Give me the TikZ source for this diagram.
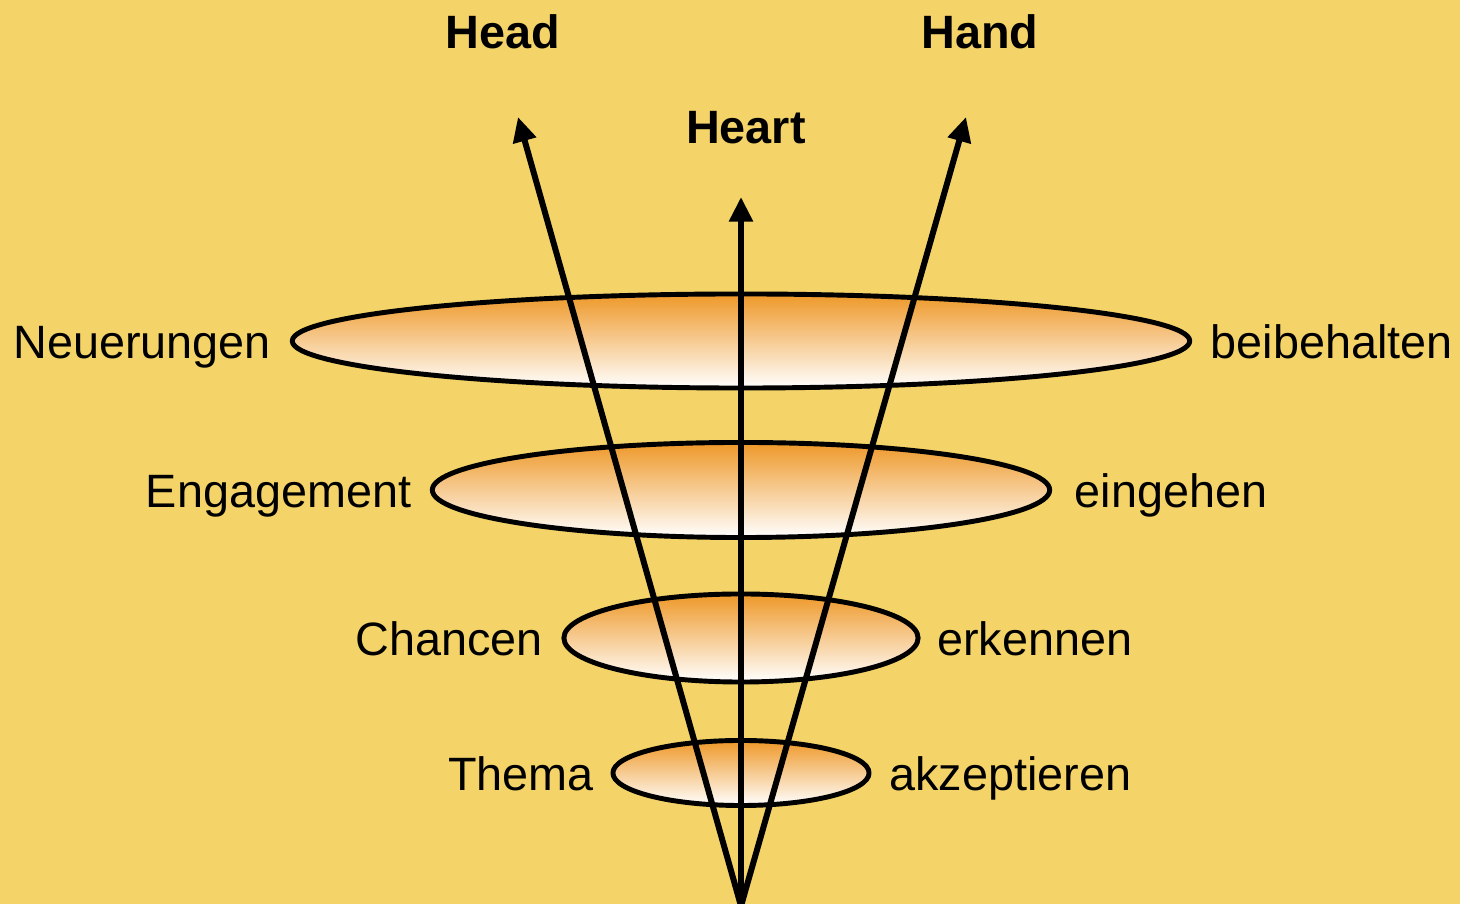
\documentclass[tikz,border=0pt]{standalone}
\usepackage{fontspec}
\setmainfont{Liberation Sans}
\usetikzlibrary{arrows.meta,positioning,shapes.geometric}
\definecolor{bgyellow}{HTML}{F4D368}
\definecolor{ringorange}{HTML}{EE9828}

\begin{document}
\begin{tikzpicture}[x=.01cm,y=-.01cm,line cap=round,line join=round,
    ring/.style={ellipse,draw,line width=1.4pt,inner sep=0pt,
      top color=ringorange,bottom color=white},
    word/.style={inner sep=0pt,text height=.72em,text depth=0pt,yshift=-1.3pt,
      font=\fontsize{13.3}{16}\selectfont},
    aim/.style={inner sep=0pt,font=\bfseries\fontsize{13.3}{16}\selectfont},
    pointer/.style={line width=1.7pt,-{Triangle[length=7pt,width=6.5pt]}}]
    \fill[bgyellow] (0,0) rectangle (1460,904);
    \useasboundingbox (0,0) rectangle (1460,904);
    % the four rings
    \node[ring,minimum width=8.97cm,minimum height=.94cm] (r4) at (741,341) {};
    \node[ring,minimum width=6.17cm,minimum height=.95cm] (r3) at (741,490) {};
    \node[ring,minimum width=3.54cm,minimum height=.88cm] (r2) at (741,638) {};
    \node[ring,minimum width=2.56cm,minimum height=.65cm] (r1) at (741,773) {};
    \node[word,left=.18cm of r4] {Neuerungen};
    \node[word,right=.18cm of r4] {beibehalten};
    \node[word,left=.18cm of r3] {Engagement};
    \node[word,right=.22cm of r3] {eingehen};
    \node[word,left=.18cm of r2] {Chancen};
    \node[word,right=.16cm of r2] {erkennen};
    \node[word,left=.16cm of r1] {Thema};
    \node[word,right=.17cm of r1] {akzeptieren};
    % the three arrows
    \coordinate (apex) at (741,906);
    \coordinate (headtip) at (518,117);
    \coordinate (hearttip) at (741,197);
    \coordinate (handtip) at (966,117);
    \draw[pointer] (apex) -- (headtip);
    \draw[pointer] (apex) -- (hearttip);
    \draw[pointer] (apex) -- (handtip);
    \node[aim] (head) at (503,32) {Head};
    \node[aim] (heart) at (746,128) {Heart};
    \node[aim] (hand) at (980,32) {Hand};
  \end{tikzpicture}
\end{document}
